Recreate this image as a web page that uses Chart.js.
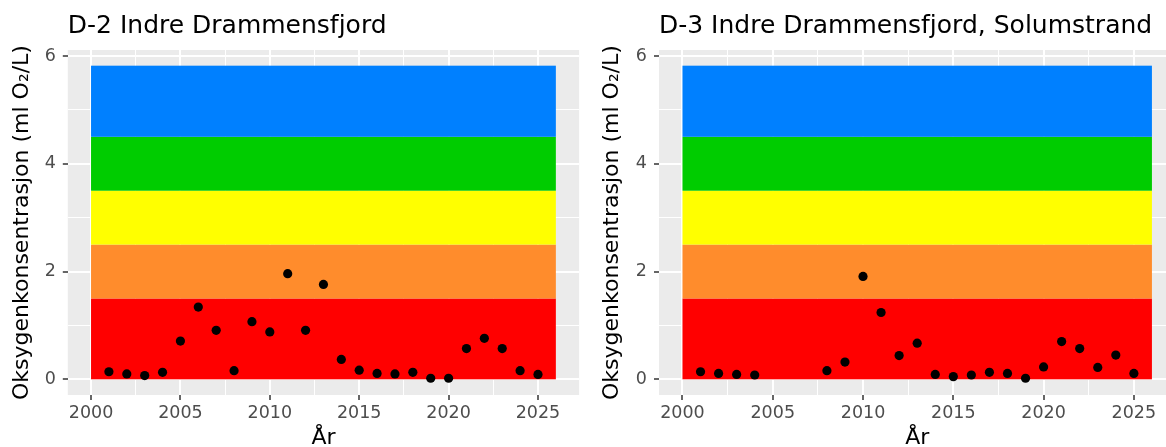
<!DOCTYPE html>
<html>
<head>
<meta charset="utf-8">
<script src="https://cdn.jsdelivr.net/npm/chart.js@4/dist/chart.umd.min.js"></script>
<style>
  html, body { margin: 0; padding: 0; background: #fff; overflow: hidden; }
  body { width: 1166px; height: 447px; position: relative; }
  .wrap { position: absolute; top: 0; height: 447px; width: 590px; }
</style>
</head>
<body>
<div class="wrap" style="left:0"><canvas id="chart-d2"></canvas></div>
<div class="wrap" style="left:590px"><canvas id="chart-d3"></canvas></div>
<script>
// D-2 Indre Drammensfjord
const d2Years = [2001, 2002, 2003, 2004, 2005, 2006, 2007, 2008, 2009, 2010, 2011, 2012, 2013,
  2014, 2015, 2016, 2017, 2018, 2019, 2020, 2021, 2022, 2023, 2024, 2025]
const d2Values = [0.14, 0.10, 0.07, 0.13, 0.71, 1.34, 0.91, 0.16, 1.07, 0.88, 1.96, 0.91, 1.76,
  0.37, 0.17, 0.11, 0.10, 0.13, 0.02, 0.02, 0.57, 0.76, 0.57, 0.16, 0.09]

// D-3 Indre Drammensfjord, Solumstrand (no data 2005-2007)
const d3Years = [2001, 2002, 2003, 2004, 2008, 2009, 2010, 2011, 2012, 2013, 2014, 2015,
  2016, 2017, 2018, 2019, 2020, 2021, 2022, 2023, 2024, 2025]
const d3Values = [0.14, 0.11, 0.09, 0.08, 0.16, 0.32, 1.91, 1.24, 0.44, 0.67, 0.09, 0.05,
  0.08, 0.13, 0.11, 0.02, 0.23, 0.70, 0.57, 0.22, 0.45, 0.11]

// tilstandsklasser
const bandLimits = [0, 1.5, 2.5, 3.5, 4.5, 5.82]
const bandColors = ['#ff0000', '#ff8c2c', '#ffff00', '#00cc00', '#0080ff']
const bandYears = [2000, 2026]

const xTicks = [2000, 2002.5, 2005, 2007.5, 2010, 2012.5, 2015, 2017.5, 2020, 2022.5, 2025]
const yTicks = [0, 1, 2, 3, 4, 5, 6]

const FONT = 'DejaVu Sans'

const panelPlugin = {
  id: 'panel',
  beforeDraw(chart) {
    const {ctx, chartArea: a} = chart
    ctx.save()
    ctx.fillStyle = '#ebebeb'
    ctx.fillRect(a.left, a.top, a.right - a.left, a.bottom - a.top)
    ctx.restore()
  },
  beforeDatasetsDraw(chart) {
    const {ctx, scales: {x, y}} = chart
    ctx.save()
    const x0 = x.getPixelForValue(bandYears[0])
    const x1 = x.getPixelForValue(bandYears[1])
    for (let i = 0; i < bandColors.length; i++) {
      const yTop = y.getPixelForValue(bandLimits[i + 1])
      const yBot = y.getPixelForValue(bandLimits[i])
      ctx.fillStyle = bandColors[i]
      ctx.fillRect(x0, yTop, x1 - x0, yBot - yTop)
    }
    ctx.restore()
  },
  afterDraw(chart, args, opts) {
    const {ctx, chartArea: a} = chart
    ctx.save()
    ctx.font = '25px "' + FONT + '"'
    ctx.fillStyle = '#000'
    ctx.textBaseline = 'alphabetic'
    ctx.fillText(opts.text, a.left, 33)
    ctx.restore()
  }
}

function isMajor(v, step) {
  return Math.abs(v / step - Math.round(v / step)) < 1e-6
}

function makeChart(id, title, years, values, axisWidth, padRight) {
  return new Chart(document.getElementById(id), {
    type: 'scatter',
    data: {
      datasets: [{
        data: years.map((yr, i) => ({x: yr, y: values[i]})),
        backgroundColor: '#000',
        borderWidth: 0,
        pointRadius: 4.6,
        pointHoverRadius: 4.6
      }]
    },
    options: {
      responsive: true,
      maintainAspectRatio: false,
      animation: false,
      events: [],
      layout: { padding: { top: 50, right: padRight, left: 0, bottom: 0 } },
      plugins: {
        legend: { display: false },
        tooltip: { enabled: false },
        panel: { text: title }
      },
      scales: {
        x: {
          type: 'linear',
          min: 1998.7,
          max: 2027.3,
          afterBuildTicks: s => { s.ticks = xTicks.map(v => ({value: v})) },
          afterFit: s => { s.height = 52 },
          border: { display: false },
          grid: {
            color: '#fff',
            lineWidth: c => isMajor(c.tick.value, 5) ? 2 : 1,
            tickColor: c => isMajor(c.tick.value, 5) ? '#333' : 'rgba(0,0,0,0)',
            tickWidth: 1.5,
            tickLength: 5
          },
          ticks: {
            autoSkip: false,
            maxRotation: 0,
            padding: 3,
            color: '#4d4d4d',
            font: { family: FONT, size: 17.5 },
            callback: v => isMajor(v, 5) ? String(v) : ''
          },
          title: {
            display: true,
            text: 'År',
            color: '#000',
            font: { family: FONT, size: 22, lineHeight: 0.8 },
            padding: { top: 0, bottom: 0 }
          }
        },
        y: {
          type: 'linear',
          min: -0.291,
          max: 6.111,
          afterBuildTicks: s => { s.ticks = yTicks.map(v => ({value: v})) },
          afterFit: s => { s.width = axisWidth },
          border: { display: false },
          grid: {
            color: '#fff',
            lineWidth: c => isMajor(c.tick.value, 2) ? 2 : 1,
            tickColor: c => isMajor(c.tick.value, 2) ? '#333' : 'rgba(0,0,0,0)',
            tickWidth: 1.5,
            tickLength: 5
          },
          ticks: {
            autoSkip: false,
            padding: 7,
            color: '#4d4d4d',
            font: { family: FONT, size: 17.5 },
            callback: v => isMajor(v, 2) ? String(v) : ''
          },
          title: {
            display: true,
            text: 'Oksygenkonsentrasjon (ml O₂/L)',
            color: '#000',
            font: { family: FONT, size: 22, lineHeight: 1 },
            padding: { top: 11, bottom: 0 }
          }
        }
      }
    },
    plugins: [panelPlugin]
  })
}

makeChart('chart-d2', 'D-2 Indre Drammensfjord', d2Years, d2Values, 67.8, 10.9)
makeChart('chart-d3', 'D-3 Indre Drammensfjord, Solumstrand', d3Years, d3Values, 69, 0.6)
</script>
</body>
</html>
